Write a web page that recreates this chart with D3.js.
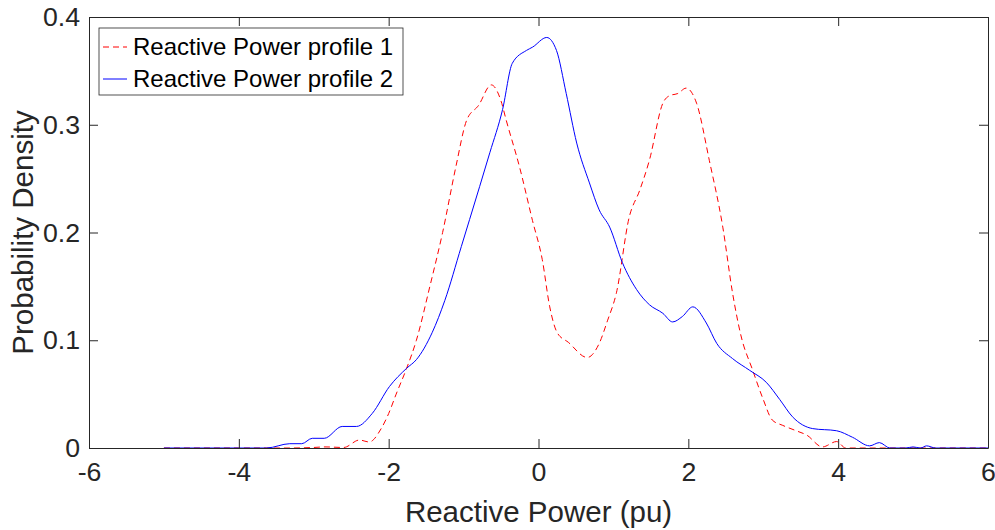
<!DOCTYPE html>
<html>
<head>
<meta charset="utf-8">
<script src="https://cdn.jsdelivr.net/npm/d3@7"></script>
<style>
  body { margin: 0; background: #fff; }
  svg { font-family: "Liberation Sans", Arial, sans-serif; }
</style>
</head>
<body>
<svg id="chart" width="995" height="530"></svg>
<script>
// reactive power profile 1 (dashed red)
const xs1 = [-5, -4, -3.3, -3.0, -2.85, -2.6, -2.39, -2.26, -2.1, -2.0, -1.9, -1.76, -1.63, -1.45, -1.28, -1.1, -0.96, -0.8, -0.63, -0.5, -0.43, -0.25, -0.08, 0.05, 0.15, 0.25, 0.4, 0.65, 0.81, 0.92, 1.04, 1.21, 1.35, 1.48, 1.66, 1.75, 1.86, 1.97, 2.11, 2.28, 2.46, 2.59, 2.7, 2.86, 3.0, 3.12, 3.26, 3.44, 3.58, 3.79, 3.98, 4.1, 4.5, 5, 6];
const ys1 = [0, 0, 0, 0.0005, 0.001, 0.0005, 0.0074, 0.0056, 0.018, 0.032, 0.05, 0.074, 0.1, 0.15, 0.2, 0.262, 0.304, 0.318, 0.337, 0.322, 0.304, 0.26, 0.211, 0.175, 0.131, 0.107, 0.098, 0.084, 0.097, 0.118, 0.144, 0.214, 0.239, 0.267, 0.32, 0.327, 0.329, 0.334, 0.32, 0.267, 0.205, 0.144, 0.105, 0.072, 0.045, 0.026, 0.021, 0.016, 0.012, 0.001, 0.006, 0, 0, 0, 0];

// reactive power profile 2 (solid blue)
const xs2 = [-5, -4, -3.63, -3.32, -3.16, -3.02, -2.86, -2.62, -2.43, -2.22, -1.99, -1.76, -1.63, -1.42, -1.25, -1.03, -0.92, -0.65, -0.48, -0.35, -0.16, -0.08, 0.11, 0.24, 0.37, 0.51, 0.68, 0.81, 0.95, 1.12, 1.31, 1.48, 1.66, 1.79, 1.92, 2.06, 2.24, 2.38, 2.59, 2.82, 3.04, 3.22, 3.39, 3.66, 3.98, 4.19, 4.42, 4.55, 4.69, 4.9, 5.0, 5.1, 5.18, 5.3, 6];
const ys2 = [0, 0, 0, 0.004, 0.004, 0.009, 0.009, 0.02, 0.02, 0.032, 0.057, 0.074, 0.082, 0.107, 0.137, 0.187, 0.212, 0.274, 0.314, 0.357, 0.369, 0.372, 0.381, 0.369, 0.329, 0.283, 0.246, 0.221, 0.205, 0.172, 0.147, 0.133, 0.125, 0.117, 0.122, 0.131, 0.116, 0.097, 0.083, 0.072, 0.061, 0.045, 0.029, 0.018, 0.016, 0.01, 0.002, 0.005, 0, 0, 0.001, 0, 0.002, 0, 0];

const xTicks = [-6, -4, -2, 0, 2, 4, 6];
const yTicks = [0, 0.1, 0.2, 0.3, 0.4];
const seriesNames = ["Reactive Power profile 1", "Reactive Power profile 2"];

const svg = d3.select("#chart");
const margin = { left: 89, right: 7, top: 17, bottom: 82 };
const W = 995, H = 530;
const axisColor = "#262626";
const tickFont = 26.7;

const x = d3.scaleLinear().domain([-6, 6]).range([margin.left, W - margin.right]);
const y = d3.scaleLinear().domain([0, 0.4]).range([H - margin.bottom, margin.top]);

const tickLen = 9;

// curves (drawn below the axes frame)
const line = d3.line().curve(d3.curveMonotoneX);
const series = [
  { xs: xs1, ys: ys1, color: "#ff0000", dash: "6,4" },
  { xs: xs2, ys: ys2, color: "#0000ff", dash: null }
];
series.forEach((s) => {
  const pts = s.xs.map((v, i) => [x(v), y(s.ys[i])]);
  svg.append("path")
    .attr("d", line(pts))
    .attr("fill", "none")
    .attr("stroke", s.color)
    .attr("stroke-width", 1)
    .attr("stroke-dasharray", s.dash);
});

// axes (MATLAB style: ticks inward, box on)
const axBottom = svg.append("g").attr("transform", `translate(0,${y(0)})`)
  .call(d3.axisBottom(x).tickValues(xTicks).tickSizeInner(-tickLen).tickSizeOuter(0).tickPadding(14).tickFormat((d) => String(d)));
const axTop = svg.append("g").attr("transform", `translate(0,${y(0.4)})`)
  .call(d3.axisTop(x).tickValues(xTicks).tickSizeInner(-tickLen).tickSizeOuter(0).tickFormat(""));
const axLeft = svg.append("g").attr("transform", `translate(${x(-6)},0)`)
  .call(d3.axisLeft(y).tickValues(yTicks).tickSizeInner(-tickLen).tickSizeOuter(0).tickPadding(9).tickFormat((d) => d === 0 ? "0" : d3.format(".1f")(d)));
const axRight = svg.append("g").attr("transform", `translate(${x(6)},0)`)
  .call(d3.axisRight(y).tickValues(yTicks).tickSizeInner(-tickLen).tickSizeOuter(0).tickFormat(""));

[axBottom, axTop, axLeft, axRight].forEach((g) => {
  g.select(".domain").attr("stroke", axisColor).attr("stroke-width", 1);
  g.selectAll(".tick line").attr("stroke", axisColor).attr("stroke-width", 1);
  g.selectAll(".tick text")
    .attr("fill", axisColor)
    .attr("font-size", tickFont)
    .attr("font-family", "Liberation Sans, Arial, sans-serif");
});
axBottom.selectAll(".tick text").attr("dy", "0.71em");

// axis labels
svg.append("text")
  .attr("x", (x(-6) + x(6)) / 2)
  .attr("y", 522)
  .attr("text-anchor", "middle")
  .attr("fill", axisColor)
  .attr("font-size", 29.5)
  .text("Reactive Power (pu)");

svg.append("text")
  .attr("transform", `translate(33,${(y(0) + y(0.4)) / 2}) rotate(-90)`)
  .attr("text-anchor", "middle")
  .attr("fill", axisColor)
  .attr("font-size", 29.5)
  .text("Probability Density");

// legend
const lg = svg.append("g").attr("transform", "translate(99,28)");
lg.append("rect")
  .attr("width", 304).attr("height", 67)
  .attr("fill", "white")
  .attr("stroke", "#262626")
  .attr("stroke-width", 0.8);
seriesNames.forEach((name, i) => {
  const cy = 19 + i * 32;
  lg.append("line")
    .attr("x1", 4).attr("x2", 28)
    .attr("y1", cy).attr("y2", cy)
    .attr("stroke", series[i].color)
    .attr("stroke-width", 1)
    .attr("stroke-dasharray", series[i].dash);
  lg.append("text")
    .attr("x", 34).attr("y", cy)
    .attr("dy", "0.35em")
    .attr("font-size", 24)
    .attr("fill", "#000")
    .text(name);
});
</script>
</body>
</html>
